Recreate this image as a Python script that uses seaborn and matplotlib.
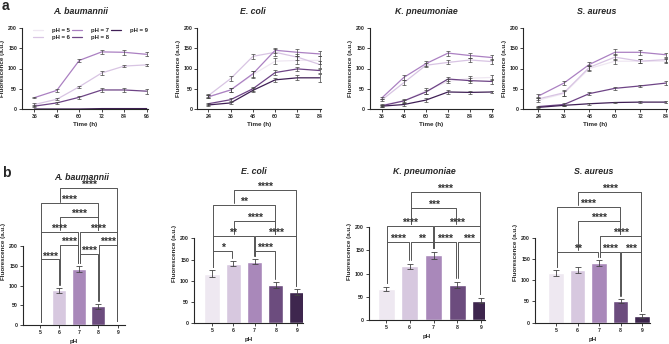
import seaborn as sns
import matplotlib.pyplot as plt
import pandas as pd
import numpy as np

sns.set_style('ticks')
plt.rcParams['font.family'] = ['Liberation Sans', 'DejaVu Sans']
plt.rcParams['font.weight'] = 'bold'

W, H = 669, 344
ph_levels = [5, 6, 7, 8, 9]
ph_colors = ['#efe7f2', '#d8c4e3', '#ab80c2', '#6e4486', '#3f1f55']
organisms = ['A. baumannii', 'E. coli', 'K. pneumoniae', 'S. aureus']

# ---- panel a: fluorescence over time (one list per pH 5..9) ----
time_ab = [36, 48, 60, 72, 84, 96]
ab_lines = [[0, 0, 0, 0, 0, 0],
            [11, 24, 55, 89, 106, 109],
            [28, 46, 120, 141, 140, 135],
            [7, 15, 29, 47, 47, 44],
            [0, 0, 0, 1, 1, 1]]
ab_errs = [[0, 0, 0, 0, 0, 0],
           [3, 3, 3, 5, 3, 3],
           [2, 3, 4, 5, 6, 5],
           [2, 2, 4, 6, 6, 6],
           [0, 0, 0, 0, 0, 0]]

time_ec = [24, 36, 48, 60, 72, 84]
ec_lines = [[30, 47, 85, 118, 120, 120],
            [33, 75, 130, 140, 128, 110],
            [30, 47, 87, 145, 140, 136],
            [13, 23, 50, 90, 99, 95],
            [10, 15, 46, 72, 77, 77]]
ec_errs = [[4, 5, 8, 8, 10, 10],
           [4, 7, 6, 8, 8, 8],
           [4, 6, 8, 6, 8, 6],
           [3, 3, 5, 6, 4, 5],
           [3, 3, 5, 5, 6, 10]]

time_kp = [36, 48, 60, 72, 84, 96]
kp_lines = [[10, 20, 45, 68, 76, 78],
            [22, 65, 108, 115, 121, 117],
            [27, 78, 112, 138, 132, 127],
            [8, 20, 42, 74, 70, 68],
            [7, 11, 22, 42, 41, 42]]
kp_errs = [[3, 4, 7, 5, 6, 6],
           [3, 6, 5, 5, 6, 6],
           [3, 6, 6, 6, 6, 6],
           [3, 3, 5, 6, 6, 6],
           [2, 3, 4, 5, 4, 3]]

time_sa = [24, 36, 48, 60, 72, 84]
sa_lines = [[22, 38, 100, 118, 118, 118],
            [25, 40, 103, 128, 118, 122],
            [32, 64, 110, 140, 140, 134],
            [6, 11, 38, 51, 57, 64],
            [4, 9, 13, 16, 17, 17]]
sa_errs = [[4, 6, 6, 6, 5, 5],
           [4, 7, 6, 8, 5, 5],
           [4, 5, 5, 7, 6, 5],
           [2, 3, 3, 4, 3, 4],
           [2, 2, 2, 2, 2, 2]]

# ---- panel b: fluorescence per pH ----
ab_bar = [0, 88, 142, 47, 1]
ab_bar_err = [0, 6, 7, 6, 0]
ec_bar = [117, 140, 145, 90, 73]
ec_bar_err = [8, 6, 6, 7, 7]
kp_bar = [67, 115, 139, 75, 42]
kp_bar_err = [4, 6, 7, 7, 6]
sa_bar = [117, 125, 140, 51, 16]
sa_bar_err = [6, 7, 7, 4, 4]

# significance brackets: (from index, to index, height, label)
ab_sig = [(0, 1, 166, '****'), (2, 3, 179, '****'), (1, 2, 202, '****'), (3, 4, 202, '****'),
          (0, 2, 236, '****'), (2, 4, 236, '****'), (1, 3, 274, '****'), (0, 3, 308, '****'),
          (1, 4, 346, '****')]
ec_sig = [(0, 1, 170, '*'), (2, 3, 170, '****'), (0, 2, 205, '**'), (2, 4, 205, '****'),
          (1, 3, 241, '****'), (0, 3, 278, '**'), (1, 4, 314, '****')]
kp_sig = [(0, 1, 168, '****'), (1, 2, 168, '**'), (2, 3, 168, '****'), (3, 4, 168, '***'),
          (0, 2, 201, '****'), (2, 4, 201, '****'), (1, 3, 241, '***'), (1, 4, 275, '****')]
sa_sig = [(0, 2, 167, '**'), (2, 3, 167, '****'), (3, 4, 167, '***'), (2, 4, 204, '****'),
          (1, 3, 239, '****'), (0, 3, 273, '****'), (1, 4, 308, '****')]

fig = plt.figure(figsize=(6.69, 3.44), dpi=100)


def add_ax(left, right, top, bottom):
    return fig.add_axes([left / W, 1 - bottom / H, (right - left) / W, (bottom - top) / H])


def style(ax):
    sns.despine(ax=ax)
    for s in ['left', 'bottom']:
        ax.spines[s].set_linewidth(0.8)
    ax.spines['left'].set_bounds(0, 200)
    ax.set_yticks([0, 50, 100, 150, 200])
    ax.tick_params(labelsize=3.8, length=2, width=0.6, pad=1.5)
    ax.set_ylabel('Fluorescence (a.u.)', fontsize=4.5, fontweight='bold', labelpad=2)


def line_panel(ax, times, lines, errs, xlim, legend=False):
    labels = [f'pH = {p}' for p in ph_levels]
    df = pd.DataFrame({'Time': np.tile(times, 5),
                       'Fluorescence': np.concatenate(lines),
                       'pH': np.repeat(labels, len(times))})
    sns.lineplot(data=df, x='Time', y='Fluorescence', hue='pH', hue_order=labels,
                 palette=ph_colors, lw=0.9, ax=ax, legend=legend)
    for vals, err in zip(lines, errs):
        ax.errorbar(times, vals, yerr=err, fmt='none', ecolor='#444', elinewidth=0.5,
                    capsize=1.2, capthick=0.5)
    ax.set_xlim(*xlim)
    ax.set_ylim(0, 200)
    ax.set_xticks(times)
    style(ax)
    ax.set_xlabel('Time (h)', fontsize=4.5, fontweight='bold', labelpad=2)
    if legend:
        h, l = ax.get_legend_handles_labels()
        ax.legend(h, l, ncol=3, loc='upper left', bbox_to_anchor=(0.07, 1.03),
                  fontsize=4.3, frameon=False, handlelength=1.7, handletextpad=1.4,
                  columnspacing=0.4, labelspacing=0.35, borderaxespad=0)


def leg_bottom(k, y, sig, tops):
    # a leg stops just above a lower bracket passing underneath, else above the bar
    below = [yy for i, j, yy, _ in sig if yy < y and i < k < j]
    return max(below) + 4 if below else tops[k]


def bar_panel(ax, vals, errs, sig, xlim, ytop):
    df = pd.DataFrame({'pH': [str(p) for p in ph_levels], 'Fluorescence': vals})
    sns.barplot(data=df, x='pH', y='Fluorescence', hue='pH', palette=ph_colors,
                legend=False, width=0.72, errorbar=None, ax=ax)
    ax.errorbar(range(5), vals, yerr=errs, fmt='none', ecolor='#444', elinewidth=0.6,
                capsize=2.5, capthick=0.6)
    tops = [v + e + 8 for v, e in zip(vals, errs)]
    for i, j, y, txt in sig:
        x1, x2 = i + 0.04, j - 0.04
        ax.plot([x1, x1, x2, x2],
                [leg_bottom(i, y, sig, tops), y, y, leg_bottom(j, y, sig, tops)],
                color='#555', lw=0.7, clip_on=False)
        ax.text((x1 + x2) / 2, y, txt, ha='center', va='baseline', fontsize=7.5,
                color='#333')
    ax.set_xlim(*xlim)
    ax.set_ylim(0, ytop)
    style(ax)
    ax.set_xlabel('pH', fontsize=4.5, fontweight='bold', labelpad=3)


# panel a
a_axes = [add_ax(22, 148, 28, 109), add_ax(197.3, 320.5, 28, 109),
          add_ax(370, 493, 28, 109), add_ax(523.3, 666.5, 28, 109)]
line_panel(a_axes[0], time_ab, ab_lines, ab_errs, (29.4, 96.7), legend=True)
line_panel(a_axes[1], time_ec, ec_lines, ec_errs, (18.05, 84.4))
line_panel(a_axes[2], time_kp, kp_lines, kp_errs, (29.65, 96.4))
line_panel(a_axes[3], time_sa, sa_lines, sa_errs, (16.9, 84.3))

# panel b
b1 = add_ax(23, 125, 325 - 370 * 0.395, 325)
b2 = add_ax(194, 303, 323.3 - 330 * 0.425, 323.3)
b3 = add_ax(369, 485, 320.3 - 295 * 0.468, 320.3)
b4 = add_ax(535, 650, 322.7 - 330 * 0.425, 322.7)
bar_panel(b1, ab_bar, ab_bar_err, ab_sig, (-0.87, 4.36), 370)
bar_panel(b2, ec_bar, ec_bar_err, ec_sig, (-0.85, 4.28), 330)
bar_panel(b3, kp_bar, kp_bar_err, kp_sig, (-0.72, 4.17), 295)
bar_panel(b4, sa_bar, sa_bar_err, sa_sig, (-0.98, 4.37), 330)

# titles
for name, x in zip(organisms, [81, 253, 426, 597]):
    fig.text(x / W, 1 - 11 / H, name, ha='center', va='center', fontsize=6.3,
             fontweight='bold', style='italic')
for name, x, y in zip(organisms, [82, 254, 424, 594], [177, 172, 171, 171]):
    fig.text(x / W, 1 - y / H, name, ha='center', va='center', fontsize=6.3,
             fontweight='bold', style='italic')
fig.text(2 / W, 1 - 6 / H, 'a', ha='left', va='center', fontsize=10, fontweight='bold')
fig.text(2 / W, 1 - 173 / H, 'b', ha='left', va='center', fontsize=10, fontweight='bold')

fig.savefig('out.png', dpi=100)
